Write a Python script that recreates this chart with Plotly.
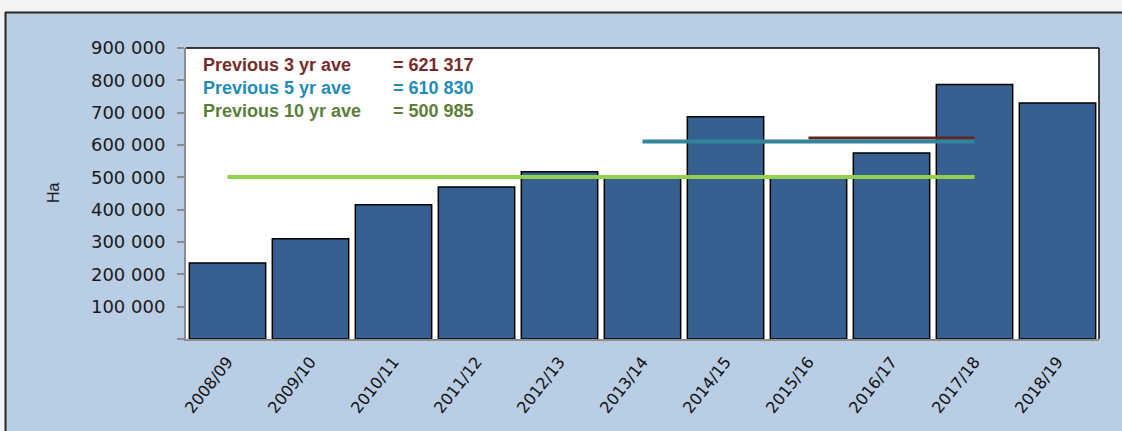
import plotly.graph_objects as go

seasons = ["2008/09", "2009/10", "2010/11", "2011/12", "2012/13", "2013/14",
           "2014/15", "2015/16", "2016/17", "2017/18", "2018/19"]
hectares = [235000, 310000, 415000, 470000, 517000, 503000,
            687000, 502000, 575000, 787000, 730000]

ave3_label, ave3_value = "Previous 3 yr ave", 621317
ave5_label, ave5_value = "Previous 5 yr ave", 610830
ave10_label, ave10_value = "Previous 10 yr ave", 500985
ave3_span = ["2015/16", "2017/18"]
ave5_span = ["2013/14", "2017/18"]
ave10_span = ["2008/09", "2017/18"]

y_ticks = [0, 100000, 200000, 300000, 400000, 500000, 600000, 700000, 800000, 900000]
y_ticktext = ["", "100 000", "200 000", "300 000", "400 000", "500 000",
              "600 000", "700 000", "800 000", "900 000"]

W, H = 1122, 431
ML, MR, MT, MB = 186, 23, 48, 92
PW, PH = W - ML - MR, H - MT - MB


def px(x):
    return (x - ML) / PW


def py(y):
    return 1 - (y - MT) / PH


fig = go.Figure()
fig.add_trace(go.Bar(
    x=seasons, y=hectares,
    marker=dict(color="#36608f", line=dict(color="#000000", width=1.5)),
    width=0.92, showlegend=False, hoverinfo="x+y"))

fig.add_trace(go.Scatter(x=ave10_span, y=[ave10_value] * 2, mode="lines",
                         line=dict(color="#92d050", width=4), showlegend=False))
fig.add_trace(go.Scatter(x=ave3_span, y=[ave3_value] * 2, mode="lines",
                         line=dict(color="#632523", width=3), showlegend=False))
fig.add_trace(go.Scatter(x=ave5_span, y=[ave5_value] * 2, mode="lines",
                         line=dict(color="#31849b", width=4), showlegend=False))

shapes = [
    # white strip on top of the panel
    dict(type="rect", xref="paper", yref="paper", x0=px(0), x1=px(W), y0=py(12), y1=py(0),
         fillcolor="#f2f4f4", line=dict(width=0), layer="below"),
    dict(type="rect", xref="paper", yref="paper", x0=px(0), x1=px(5), y0=py(H), y1=py(0),
         fillcolor="#f2f4f4", line=dict(width=0), layer="below"),
    # panel frame
    dict(type="line", xref="paper", yref="paper", x0=px(5), x1=px(W), y0=py(12.5), y1=py(12.5),
         line=dict(color="#2b2522", width=2)),
    dict(type="line", xref="paper", yref="paper", x0=px(5.5), x1=px(5.5), y0=py(12), y1=py(H),
         line=dict(color="#2b2522", width=2)),
    # plot area top/right border
    dict(type="line", xref="paper", yref="paper", x0=0, x1=1, y0=1, y1=1,
         line=dict(color="#000000", width=1.5)),
    dict(type="line", xref="paper", yref="paper", x0=1, x1=1, y0=0, y1=1,
         line=dict(color="#000000", width=1.5)),
]

ann_font = "Liberation Sans, Arial, sans-serif"
annotations = [
    dict(text="Ha", xref="paper", yref="paper", x=px(53), y=py(193), showarrow=False,
         textangle=-90, font=dict(family=ann_font, size=16, color="#1a1a1a"),
         xanchor="center", yanchor="middle"),
]
rows = [(ave3_label, ave3_value, "#772c2c", 65),
        (ave5_label, ave5_value, "#1f8db5", 88),
        (ave10_label, ave10_value, "#5b7e3b", 111)]
for label, value, color, ypix in rows:
    annotations.append(dict(text="<b>" + label + "</b>", xref="paper", yref="paper",
                            x=px(201), y=py(ypix), showarrow=False, xanchor="left",
                            yanchor="middle",
                            font=dict(family=ann_font, size=18, color=color)))
    annotations.append(dict(text="<b>= " + f"{value:,}".replace(",", " ") + "</b>",
                            xref="paper", yref="paper", x=px(391), y=py(ypix),
                            showarrow=False, xanchor="left", yanchor="middle",
                            font=dict(family=ann_font, size=18, color=color)))

fig.update_layout(
    width=W, height=H,
    margin=dict(l=ML, r=MR, t=MT, b=MB, pad=0),
    paper_bgcolor="#b9cde4",
    plot_bgcolor="#ffffff",
    bargap=0.08,
    shapes=shapes,
    annotations=annotations,
    xaxis=dict(type="category", showgrid=False, showline=True, linecolor="#8c8c8c",
               linewidth=2, ticks="", tickangle=-52, ticklabelstandoff=5,
               tickfont=dict(family="DejaVu Sans, sans-serif", size=16, color="#111111")),
    yaxis=dict(range=[0, 900000], tickvals=y_ticks, ticktext=y_ticktext, showgrid=False,
               showline=True, linecolor="#8c8c8c", linewidth=2, ticks="outside",
               ticklen=7, tickcolor="#8c8c8c", tickwidth=1.5, ticklabelstandoff=8,
               zeroline=False,
               tickfont=dict(family="DejaVu Sans, sans-serif", size=18, color="#1a1a1a")),
)

fig.write_html("out.html", config={"displayModeBar": False},
               post_script="document.body.style.margin='0';document.body.style.overflow='hidden';")
